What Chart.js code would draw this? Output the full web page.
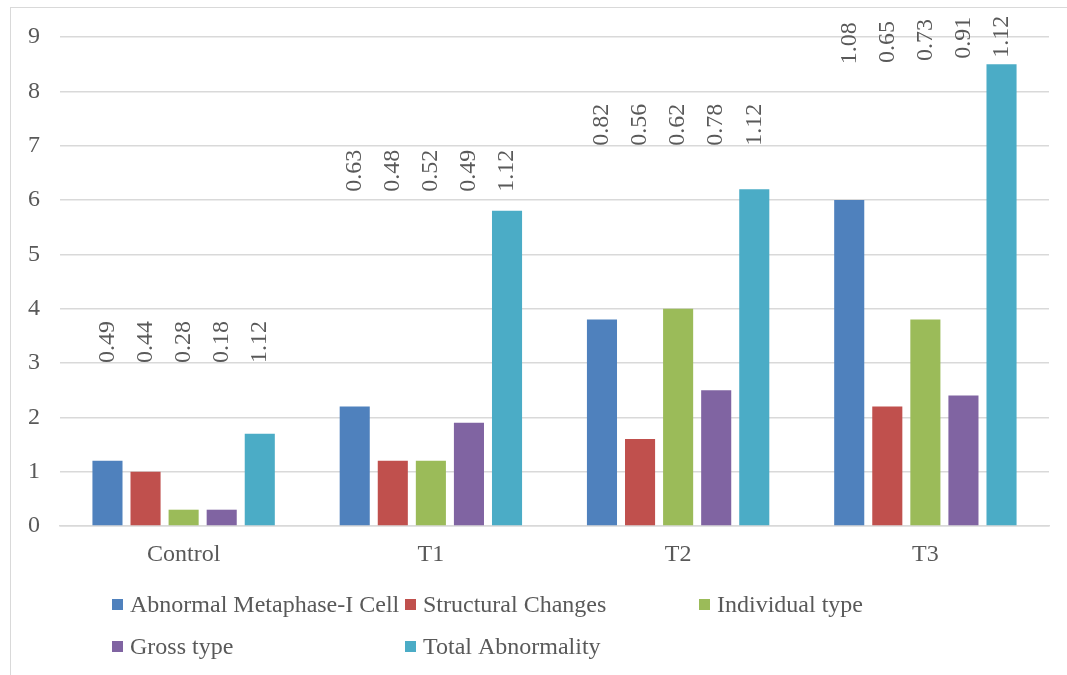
<!DOCTYPE html>
<html>
<head>
<meta charset="utf-8">
<title>Meiotic abnormalities by treatment</title>
<script src="https://cdn.jsdelivr.net/npm/chart.js@4.4.1/dist/chart.umd.min.js"></script>
<style>
  html, body { margin: 0; padding: 0; background: #fff; overflow: hidden; }
  #wrap { position: relative; width: 1067px; height: 675px; }
  #frame { position: absolute; left: 10px; top: 7px; width: 1100px; height: 720px;
           border: 1.5px solid #d9d9d9; box-sizing: border-box; pointer-events: none; }
  canvas { position: absolute; left: 0; top: 0; }
</style>
</head>
<body>
<div id="wrap">
  <canvas id="chart" width="1067" height="675"></canvas>
  <div id="frame"></div>
</div>
<script>
// Treatment groups on the x axis
const categories = ['Control', 'T1', 'T2', 'T3'];

// Series names
const seriesNames = ['Abnormal Metaphase-I Cell', 'Structural Changes', 'Individual type', 'Gross type', 'Total Abnormality'];

// Bar heights per series (Control, T1, T2, T3)
const abnormalMetaphase = [1.2, 2.2, 3.8, 6.0];
const structuralChanges = [1.0, 1.2, 1.6, 2.2];
const individualType    = [0.3, 1.2, 4.0, 3.8];
const grossType         = [0.3, 1.9, 2.5, 2.4];
const totalAbnormality  = [1.7, 5.8, 6.2, 8.5];

// Annotation values printed above each group, per series (Control, T1, T2, T3)
const noteAbnormalMetaphase = ['0.49', '0.63', '0.82', '1.08'];
const noteStructuralChanges = ['0.44', '0.48', '0.56', '0.65'];
const noteIndividualType    = ['0.28', '0.52', '0.62', '0.73'];
const noteGrossType         = ['0.18', '0.49', '0.78', '0.91'];
const noteTotalAbnormality  = ['1.12', '1.12', '1.12', '1.12'];

// Y axis ticks
const yTicks = [0, 1, 2, 3, 4, 5, 6, 7, 8, 9];

const seriesValues = [abnormalMetaphase, structuralChanges, individualType, grossType, totalAbnormality];
const seriesNotes  = [noteAbnormalMetaphase, noteStructuralChanges, noteIndividualType, noteGrossType, noteTotalAbnormality];
const seriesColors = ['#4F81BD', '#C0504D', '#9BBB59', '#8064A2', '#4BACC6'];

// Axis level (in y units) where each rotated annotation starts, [series][group]
const noteLevel = [
  [3.0, 6.15, 7.0, 8.5],
  [3.0, 6.15, 7.0, 8.52],
  [3.0, 6.15, 7.0, 8.56],
  [3.0, 6.15, 7.0, 8.6],
  [3.0, 6.15, 7.0, 8.62]
];

const FONT = '"Liberation Serif", "Times New Roman", serif';
const TEXT = '#595959';

// Rotated annotations anchored to each bar's x and to the y scale
const notesPlugin = {
  id: 'notes',
  afterDatasetsDraw(chart) {
    const ctx = chart.ctx;
    const yScale = chart.scales.y;
    ctx.save();
    ctx.font = '24px ' + FONT;
    ctx.fillStyle = TEXT;
    ctx.textAlign = 'left';
    ctx.textBaseline = 'middle';
    chart.data.datasets.forEach((ds, si) => {
      const meta = chart.getDatasetMeta(si);
      meta.data.forEach((bar, gi) => {
        const y = yScale.getPixelForValue(noteLevel[si][gi]);
        ctx.save();
        ctx.translate(bar.x, y);
        ctx.rotate(-Math.PI / 2);
        ctx.fillText(seriesNotes[si][gi], 0, 0);
        ctx.restore();
      });
    });
    ctx.restore();
  }
};

// Two-row legend laid out in fixed columns under the plot
const legendPlugin = {
  id: 'gridLegend',
  afterDraw(chart) {
    const ctx = chart.ctx;
    const cols = [112, 405, 699];
    const rows = [605, 647];
    ctx.save();
    ctx.font = '24px ' + FONT;
    ctx.textBaseline = 'middle';
    ctx.textAlign = 'left';
    chart.data.datasets.forEach((ds, i) => {
      const cx = cols[i % 3];
      const cy = rows[Math.floor(i / 3)];
      ctx.fillStyle = ds.backgroundColor;
      ctx.fillRect(cx, cy - 6, 11, 11);
      ctx.fillStyle = TEXT;
      ctx.fillText(ds.label, cx + 18, cy + 1);
    });
    ctx.restore();
  }
};

new Chart(document.getElementById('chart'), {
  type: 'bar',
  data: {
    labels: categories,
    datasets: seriesNames.map((name, i) => ({
      label: name,
      data: seriesValues[i],
      backgroundColor: seriesColors[i],
      borderWidth: 0,
      categoryPercentage: 0.77,
      barPercentage: 0.79
    }))
  },
  options: {
    responsive: false,
    animation: false,
    devicePixelRatio: 1,
    layout: { padding: { left: 10, right: 18, top: 37, bottom: 99 } },
    plugins: {
      legend: { display: false },
      tooltip: { enabled: false },
      title: { display: false }
    },
    scales: {
      x: {
        grid: { display: false, drawTicks: false },
        border: { display: true, color: '#d9d9d9', width: 1.5 },
        ticks: { color: TEXT, font: { family: FONT, size: 24 }, padding: 14, maxRotation: 0 },
        afterFit(scale) { scale.height = 50; }
      },
      y: {
        min: 0,
        max: 9,
        afterBuildTicks(scale) { scale.ticks = yTicks.map(v => ({ value: v })); },
        grid: { color: '#d9d9d9', lineWidth: 1.5, drawTicks: false },
        border: { display: false },
        ticks: { color: TEXT, font: { family: FONT, size: 24 }, padding: 20 },
        afterFit(scale) { scale.width = 50; }
      }
    }
  },
  plugins: [notesPlugin, legendPlugin]
});
</script>
</body>
</html>
